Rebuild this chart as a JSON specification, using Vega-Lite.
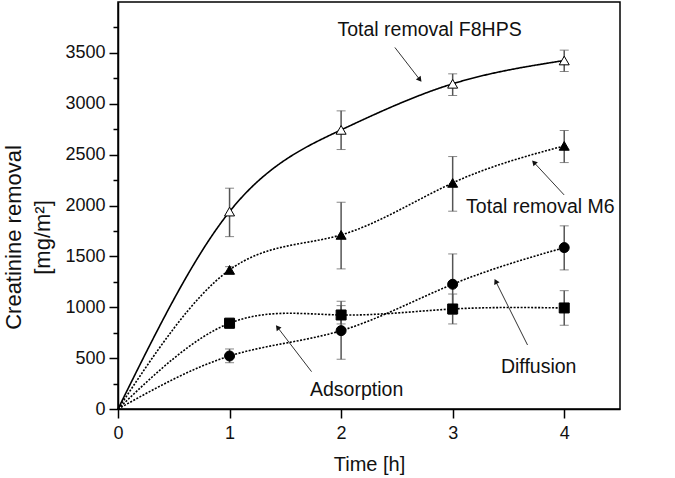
{
  "$schema": "https://vega.github.io/schema/vega-lite/v6.json",
  "width": 502,
  "height": 407,
  "autosize": {"type": "none"},
  "padding": {"left": 118, "top": 2, "right": 55, "bottom": 69},
  "background": "white",
  "config": {
    "font": "Liberation Sans",
    "view": {"stroke": "black", "strokeWidth": 1.5},
    "axis": {
      "domainColor": "black",
      "domainWidth": 1.5,
      "tickColor": "black",
      "tickWidth": 1.5,
      "grid": false,
      "labelFont": "Liberation Sans",
      "labelFontSize": 18,
      "labelColor": "#111",
      "titleFont": "Liberation Sans",
      "titleFontWeight": "normal",
      "titleColor": "#111"
    }
  },
  "datasets": {
    "series": [
      {"series": "F8HPS", "t": 0, "y": 0, "lo": 0, "hi": 0},
      {"series": "F8HPS", "t": 1, "y": 1940, "lo": 1694, "hi": 2170},
      {"series": "F8HPS", "t": 2, "y": 2743, "lo": 2550, "hi": 2930},
      {"series": "F8HPS", "t": 3, "y": 3196, "lo": 3081, "hi": 3294},
      {"series": "F8HPS", "t": 4, "y": 3425, "lo": 3317, "hi": 3527},
      {"series": "M6", "t": 0, "y": 0, "lo": 0, "hi": 0},
      {"series": "M6", "t": 1, "y": 1367, "lo": 1327, "hi": 1399},
      {"series": "M6", "t": 2, "y": 1711, "lo": 1377, "hi": 2032},
      {"series": "M6", "t": 3, "y": 2222, "lo": 1944, "hi": 2481},
      {"series": "M6", "t": 4, "y": 2586, "lo": 2422, "hi": 2737},
      {"series": "Diffusion", "t": 0, "y": 0, "lo": 0, "hi": 0},
      {"series": "Diffusion", "t": 1, "y": 521, "lo": 455, "hi": 590},
      {"series": "Diffusion", "t": 2, "y": 770, "lo": 489, "hi": 1059},
      {"series": "Diffusion", "t": 3, "y": 1226, "lo": 930, "hi": 1524},
      {"series": "Diffusion", "t": 4, "y": 1586, "lo": 1367, "hi": 1800},
      {"series": "Adsorption", "t": 0, "y": 0, "lo": 0, "hi": 0},
      {"series": "Adsorption", "t": 1, "y": 843, "lo": 794, "hi": 892},
      {"series": "Adsorption", "t": 2, "y": 924, "lo": 836, "hi": 1016},
      {"series": "Adsorption", "t": 3, "y": 983, "lo": 836, "hi": 1130},
      {"series": "Adsorption", "t": 4, "y": 993, "lo": 823, "hi": 1163}
    ],
    "labels": [
      {"label": "Total removal F8HPS", "t": 2.793, "y": 3727},
      {"label": "Total removal M6", "t": 3.786, "y": 1983},
      {"label": "Diffusion", "t": 3.771, "y": 416},
      {"label": "Adsorption", "t": 2.139, "y": 187}
    ],
    "arrows": [
      {"arrow": "F8HPS", "t": 2.706, "y": 3236, "t2": 2.482, "y2": 3553},
      {"arrow": "M6", "t": 3.728, "y": 2424, "t2": 3.999, "y2": 2104},
      {"arrow": "Diffusion", "t": 3.386, "y": 1254, "t2": 3.671, "y2": 629},
      {"arrow": "Adsorption", "t": 1.43, "y": 803, "t2": 1.735, "y2": 367}
    ]
  },
  "encoding": {
    "x": {
      "field": "t",
      "type": "quantitative",
      "scale": {"domain": [0, 4.5], "nice": false, "zero": false},
      "axis": {
        "title": "Time [h]",
        "titleFontSize": 20,
        "titlePadding": 12,
        "values": [0, 0.5, 1, 1.5, 2, 2.5, 3, 3.5, 4, 4.5],
        "format": "d",
        "labelExpr": "datum.value % 1 === 0 ? datum.label : ''",
        "tickSize": {"condition": {"test": "datum.value % 1 === 0", "value": 9}, "value": 5},
        "labelPadding": 6,
        "labelFlush": false
      }
    },
    "y": {
      "field": "y",
      "type": "quantitative",
      "scale": {"domain": [0, 4000], "nice": false},
      "axis": {
        "title": ["Creatinine removal", "[mg/m²]"],
        "titleFontSize": 22,
        "titleLineHeight": 29,
        "titlePadding": 10,
        "titleY": 235,
        "values": [0, 250, 500, 750, 1000, 1250, 1500, 1750, 2000, 2250, 2500, 2750, 3000, 3250, 3500, 3750],
        "labelExpr": "datum.value % 500 === 0 ? datum.label : ''",
        "format": "d",
        "tickSize": {"condition": {"test": "datum.value % 500 === 0", "value": 9}, "value": 5},
        "labelPadding": 4,
        "labelFlush": false
      }
    }
  },
  "layer": [
    {
      "data": {"name": "series"},
      "transform": [{"filter": "datum.t > 0"}],
      "mark": {
        "type": "errorbar",
        "ticks": {"size": 9, "color": "#555", "strokeWidth": 1.5},
        "rule": {"color": "#555", "strokeWidth": 1.5}
      },
      "encoding": {
        "y": {
          "field": "lo",
          "type": "quantitative",
          "axis": {
            "title": ["Creatinine removal", "[mg/m²]"],
            "titleFontSize": 22,
            "titleLineHeight": 29,
            "titlePadding": 10,
            "titleY": 235,
            "values": [0, 250, 500, 750, 1000, 1250, 1500, 1750, 2000, 2250, 2500, 2750, 3000, 3250, 3500, 3750],
            "labelExpr": "datum.value % 500 === 0 ? datum.label : ''",
            "format": "d",
            "tickSize": {"condition": {"test": "datum.value % 500 === 0", "value": 9}, "value": 5},
            "labelPadding": 4,
            "labelFlush": false
          }
        },
        "y2": {"field": "hi"},
        "detail": {"field": "series"}
      }
    },
    {
      "data": {"name": "series"},
      "mark": {"type": "line", "interpolate": "natural", "color": "black", "strokeWidth": 1.6},
      "encoding": {
        "detail": {"field": "series"},
        "strokeDash": {
          "field": "series",
          "type": "nominal",
          "scale": {"domain": ["F8HPS", "M6", "Diffusion", "Adsorption"], "range": [[1, 0], [2, 1.5], [2, 1.5], [2, 1.5]]},
          "legend": null
        }
      }
    },
    {
      "data": {"name": "series"},
      "transform": [{"filter": "datum.t > 0"}],
      "mark": {"type": "point", "filled": true, "stroke": "black", "strokeWidth": 1, "opacity": 1},
      "encoding": {
        "shape": {
          "field": "series",
          "type": "nominal",
          "scale": {"domain": ["F8HPS", "M6", "Diffusion", "Adsorption"], "range": ["triangle-up", "triangle-up", "circle", "square"]},
          "legend": null
        },
        "fill": {
          "field": "series",
          "type": "nominal",
          "scale": {"domain": ["F8HPS", "M6", "Diffusion", "Adsorption"], "range": ["white", "black", "black", "black"]},
          "legend": null
        },
        "size": {
          "field": "series",
          "type": "nominal",
          "scale": {"domain": ["F8HPS", "M6", "Diffusion", "Adsorption"], "range": [100, 100, 90, 70]},
          "legend": null
        }
      }
    },
    {
      "data": {"name": "labels"},
      "mark": {"type": "text", "fontSize": 19.5, "color": "#111", "align": "center", "baseline": "middle"},
      "encoding": {"text": {"field": "label"}}
    },
    {
      "data": {"name": "arrows"},
      "mark": {"type": "rule", "color": "#333", "strokeWidth": 1},
      "encoding": {"x2": {"field": "t2"}, "y2": {"field": "y2"}}
    },
    {
      "data": {"name": "arrows"},
      "transform": [{"filter": "datum.arrow === 'F8HPS'"}],
      "mark": {"type": "point", "shape": "triangle-up", "filled": true, "color": "#111", "opacity": 1, "size": 36, "angle": 142}
    },
    {
      "data": {"name": "arrows"},
      "transform": [{"filter": "datum.arrow === 'M6'"}],
      "mark": {"type": "point", "shape": "triangle-up", "filled": true, "color": "#111", "opacity": 1, "size": 36, "angle": 317}
    },
    {
      "data": {"name": "arrows"},
      "transform": [{"filter": "datum.arrow === 'Diffusion'"}],
      "mark": {"type": "point", "shape": "triangle-up", "filled": true, "color": "#111", "opacity": 1, "size": 36, "angle": 333}
    },
    {
      "data": {"name": "arrows"},
      "transform": [{"filter": "datum.arrow === 'Adsorption'"}],
      "mark": {"type": "point", "shape": "triangle-up", "filled": true, "color": "#111", "opacity": 1, "size": 36, "angle": 322}
    }
  ]
}
